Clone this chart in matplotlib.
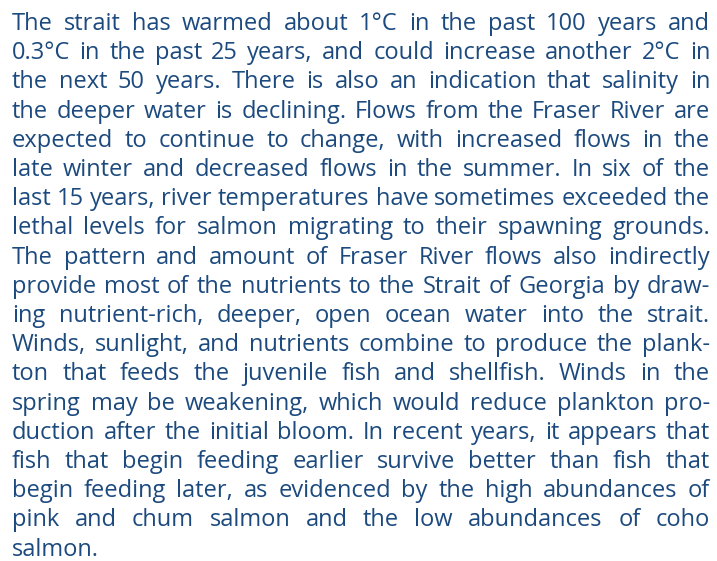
import matplotlib
matplotlib.use("Agg")
import matplotlib.pyplot as plt

lines = [
    "The strait has warmed about 1°C in the past 100 years and",
    "0.3°C in the past 25 years, and could increase another 2°C in",
    "the next 50 years. There is also an indication that salinity in",
    "the deeper water is declining. Flows from the Fraser River are",
    "expected to continue to change, with increased flows in the",
    "late winter and decreased flows in the summer. In six of the",
    "last 15 years, river temperatures have sometimes exceeded the",
    "lethal levels for salmon migrating to their spawning grounds.",
    "The pattern and amount of Fraser River flows also indirectly",
    "provide most of the nutrients to the Strait of Georgia by draw-",
    "ing nutrient-rich, deeper, open ocean water into the strait.",
    "Winds, sunlight, and nutrients combine to produce the plank-",
    "ton that feeds the juvenile fish and shellfish. Winds in the",
    "spring may be weakening, which would reduce plankton pro-",
    "duction after the initial bloom. In recent years, it appears that",
    "fish that begin feeding earlier survive better than fish that",
    "begin feeding later, as evidenced by the high abundances of",
    "pink and chum salmon and the low abundances of coho",
    "salmon.",
]

W, H = 717, 561
left, right = 12, 710
first_base, step = 30, 29.2
color = "#1c4a7e"
family = "Open Sans"

fig = plt.figure(figsize=(W / 100, H / 100), dpi=100)
ax = fig.add_axes([0, 0, 1, 1])
ax.set_xlim(0, W)
ax.set_ylim(H, 0)
ax.axis("off")
renderer = fig.canvas.get_renderer()

def word_widths(fs):
    out = []
    for ln in lines:
        ws = []
        for w in ln.split(" "):
            t = ax.text(0, 0, w, fontsize=fs, family=family)
            ws.append(t.get_window_extent(renderer).width)
            t.remove()
        out.append(ws)
    return out

def space_w(fs):
    t = ax.text(0, 0, "a a", fontsize=fs, family=family)
    a = ax.text(0, 0, "aa", fontsize=fs, family=family)
    s = t.get_window_extent(renderer).width - a.get_window_extent(renderer).width
    t.remove(); a.remove()
    return s

fs = 17.0
for _ in range(60):
    widths = word_widths(fs)
    sp = space_w(fs)
    ok = True
    for ln, ws in zip(lines[:-1], widths[:-1]):
        n = len(ws) - 1
        gap = (right - left - sum(ws)) / n
        if gap < 0.8 * sp:
            ok = False
            break
    if ok:
        break
    fs -= 0.1

widths = word_widths(fs)
sp = space_w(fs)
for i, (ln, ws) in enumerate(zip(lines, widths)):
    words = ln.split(" ")
    y = first_base + i * step
    if i == len(lines) - 1:
        gap = sp
    else:
        gap = (right - left - sum(ws)) / (len(ws) - 1)
    x = left
    for w, wd in zip(words, ws):
        ax.text(x, y, w, fontsize=fs, family=family, color=color,
                ha="left", va="baseline")
        x += wd + gap

fig.savefig("out.png", dpi=100, facecolor="white")
